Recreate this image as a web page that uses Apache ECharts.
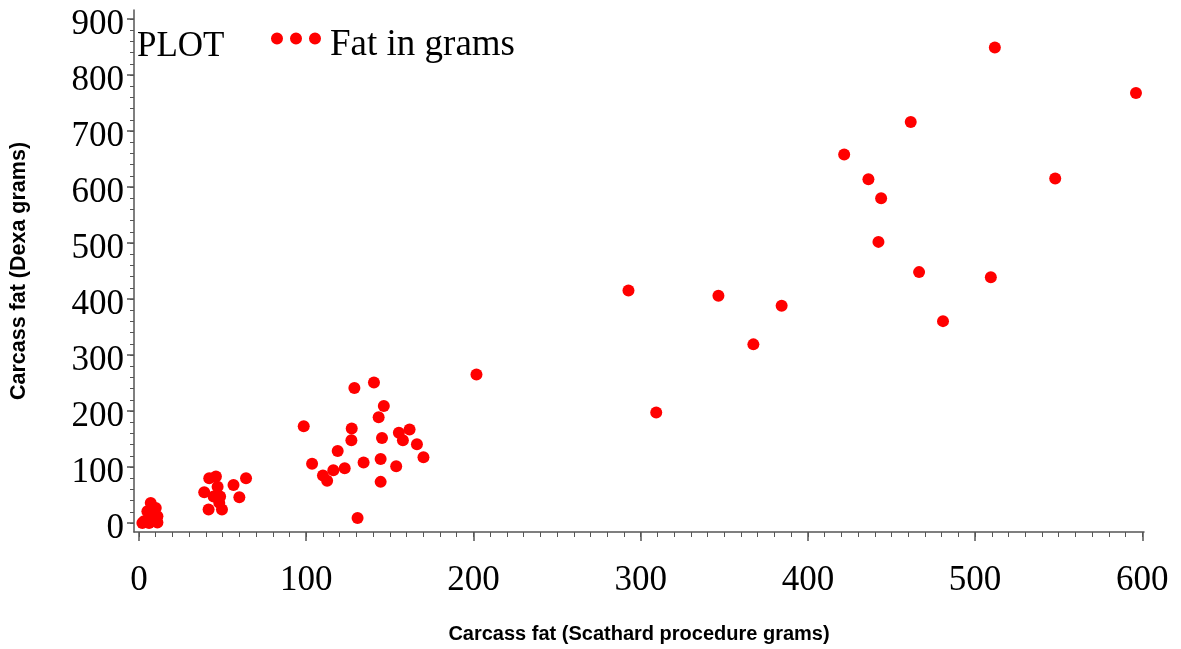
<!DOCTYPE html>
<html>
<head>
<meta charset="utf-8">
<script src="https://cdn.jsdelivr.net/npm/echarts@6/dist/echarts.min.js"></script>
<style>html,body{margin:0;padding:0;background:#fff;}#c{width:1181px;height:649px;}</style>
</head>
<body>
<div id="c"></div>
<script>
// Carcass fat, Scathard procedure (grams)
const fatScathard = [
  7, 10, 5, 11, 8, 3, 2, 11, 6, 9,
  42, 46, 39, 47, 48.5, 44.6, 41.6, 49.6, 48, 56.5, 64, 60,
  98.5, 128.8, 140.5, 146.4, 143.3, 127.2, 127, 145.3, 155.4, 161.8, 157.8, 166.2,
  170.1, 118.8, 103.5, 134.3, 144.5, 123, 116.2, 110, 112.5, 153.8, 144.5, 130.7,
  201.8, 292.7, 309.3, 346.5, 367.4, 384.3, 421.7, 436.2, 443.8, 442.2, 461.5,
  466.5, 480.8, 509.4, 511.8, 547.9, 596.2
];
// Carcass fat, Dexa (grams)
const fatDexa = [
  36, 27, 21, 12, 6, 3, 0, 1, 0, 18,
  80, 83, 55, 65, 47.5, 47.5, 24, 24, 36, 68, 80, 46,
  173, 241, 251, 209, 189, 169, 148, 152, 161, 167, 148, 140.5,
  117.4, 128.6, 106, 108, 114.4, 98, 94.3, 85, 75.3, 101.4, 73.5, 9,
  265, 415, 197.4, 406, 319, 388, 658, 614, 580, 502, 716,
  448, 360.5, 439, 849, 615, 768
];
const xMajorTicks = [0, 100, 200, 300, 400, 500, 600];
const yMajorTicks = [0, 100, 200, 300, 400, 500, 600, 700, 800, 900];
const xMinorTicks = []; for (let v = 0; v <= 600; v += 10) xMinorTicks.push(v);
const yMinorTicks = []; for (let v = 0; v <= 900; v += 20) yMinorTicks.push(v);

const points = fatScathard.map((x, i) => [x, fatDexa[i]]);
const axisColor = '#555';
const serif = '"Liberation Serif", "DejaVu Serif", serif';
const sans = '"Liberation Sans", Arial, sans-serif';

const chart = echarts.init(document.getElementById('c'));
chart.setOption({
  animation: false,
  backgroundColor: '#fff',
  title: {
    text: 'PLOT', left: 132, top: 24,
    textStyle: { fontFamily: serif, fontSize: 35, fontWeight: 'normal', color: '#000' }
  },
  legend: {
    left: 266, top: 22,
    itemWidth: 50, itemHeight: 26, itemGap: 10,
    icon: 'path://M0,6a6,6 0 1,0 12,0a6,6 0 1,0 -12,0M19,6a6,6 0 1,0 12,0a6,6 0 1,0 -12,0M38,6a6,6 0 1,0 12,0a6,6 0 1,0 -12,0M0,26L0,26M50,26L50,26',
    textStyle: { fontFamily: serif, fontSize: 37, color: '#000', padding: [0, 0, 0, 4] },
    data: ['Fat in grams']
  },
  grid: { left: 132, right: 37, top: 10, bottom: 115, containLabel: false },
  xAxis: [{
    type: 'value', min: -3, max: 601,
    name: 'Carcass fat (Scathard procedure grams)', nameLocation: 'middle', nameGap: 92,
    nameTextStyle: { fontFamily: sans, fontSize: 20, fontWeight: 'bold', color: '#000' },
    splitLine: { show: false },
    axisLine: { show: true, onZero: false, lineStyle: { color: axisColor, width: 1.5 } },
    axisTick: { show: true, inside: false, length: 9, customValues: xMajorTicks, lineStyle: { color: axisColor, width: 1.5 } },
    axisLabel: { show: true, customValues: xMajorTicks, margin: 31, fontFamily: serif, fontSize: 35, color: '#000' }
  }, {
    type: 'value', min: -3, max: 601, position: 'bottom',
    splitLine: { show: false },
    axisLine: { show: false, onZero: false },
    axisTick: { show: true, length: 5, customValues: xMinorTicks, lineStyle: { color: axisColor, width: 1 } },
    axisLabel: { show: false }
  }],
  yAxis: [{
    type: 'value', min: -16, max: 916,
    name: 'Carcass fat (Dexa grams)', nameLocation: 'middle', nameGap: 104,
    nameTextStyle: { fontFamily: sans, fontSize: 21.5, fontWeight: 'bold', color: '#000' },
    splitLine: { show: false },
    axisLine: { show: true, onZero: false, lineStyle: { color: axisColor, width: 1.5 } },
    axisTick: { show: true, length: 7, customValues: yMajorTicks, lineStyle: { color: axisColor, width: 1.5 } },
    axisLabel: { show: true, customValues: yMajorTicks, margin: 10, verticalAlign: 'top', lineHeight: 12, fontFamily: serif, fontSize: 35, color: '#000' }
  }, {
    type: 'value', min: -16, max: 916, position: 'left',
    splitLine: { show: false },
    axisLine: { show: false, onZero: false },
    axisTick: { show: true, length: 4, customValues: yMinorTicks, lineStyle: { color: axisColor, width: 1 } },
    axisLabel: { show: false }
  }],
  series: [{
    name: 'Fat in grams',
    type: 'scatter',
    xAxisIndex: 0, yAxisIndex: 0,
    symbol: 'circle', symbolSize: 12,
    itemStyle: { color: '#ff0000', opacity: 1 },
    data: points
  }]
});
</script>
</body>
</html>
